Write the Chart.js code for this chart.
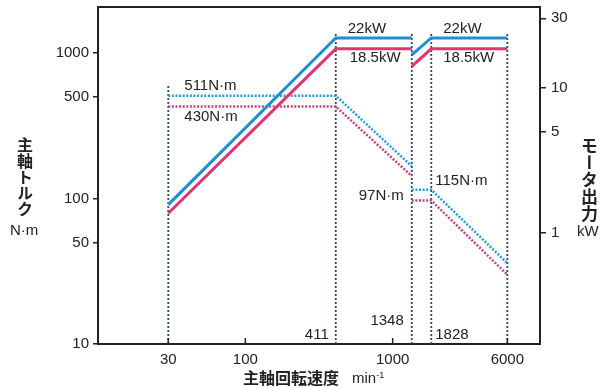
<!DOCTYPE html>
<html lang="ja">
<head>
<meta charset="utf-8">
<title>主軸出力線図</title>
<script src="https://cdn.jsdelivr.net/npm/chart.js@4.4.1/dist/chart.umd.min.js"></script>
<style>
  html, body { margin: 0; padding: 0; background: #fff; }
  #wrap { position: relative; width: 602px; height: 389px; overflow: hidden; }
  canvas { position: absolute; left: 0; top: 0; }
  .t { position: absolute; color: #222; white-space: nowrap; line-height: 1; }
  .cjk { font-family: "Noto Sans CJK JP", sans-serif; font-weight: 700; }
  .lat { font-family: "Liberation Sans", Arial, sans-serif; }
  .vert { writing-mode: vertical-rl; text-orientation: upright; }
</style>
</head>
<body>
<div id="wrap">
  <canvas id="c" width="602" height="389"></canvas>
  <div class="t cjk vert" style="left:17px; top:137px; font-size:16px;">主軸トルク</div>
  <div class="t lat" style="left:10px; top:222px; font-size:15px;">N·m</div>
  <div class="t cjk vert" style="left:581px; top:137px; font-size:17px;">モータ出力</div>
  <div class="t lat" style="left:577px; top:223px; font-size:15px;">kW</div>
  <div class="t cjk" style="left:243px; top:369px; font-size:16px;">主軸回転速度</div>
  <div class="t lat" style="left:352px; top:370px; font-size:15px;">min<sup style="font-size:9px; vertical-align:5px;">-1</sup></div>
</div>
<script>
// Spindle speed breakpoints (min^-1): low-speed winding and high-speed winding
const speedLow  = [30, 411, 1348];
const speedHigh = [1348, 1828, 6000];

// Spindle torque (N·m), dotted curves
const torqueBlueLow  = [511, 511, 167];
const torqueBlueHigh = [115, 115, 36];
const torqueRedLow   = [430, 430, 143];
const torqueRedHigh  = [97, 97, 30];

// Motor output (kW), solid curves
const powerBlueLow  = [1.57, 22, 22];
const powerBlueHigh = [16.8, 22, 22];
const powerRedLow   = [1.37, 18.5, 18.5];
const powerRedHigh  = [14, 18.5, 18.5];

// Vertical guide lines at the characteristic speeds (torque-axis top of each)
const guideSpeeds = [30, 411, 1348, 1828, 6000];
const guideTops   = [600, 1400, 1400, 1400, 1400];

// Axis tick labels
const speedTicks  = [30, 100, 1000, 6000];
const torqueTicks = [10, 50, 100, 500, 1000];
const powerTicks  = [1, 5, 10, 30];

const BLUE = '#1f8fd4';
const RED = '#e0356f';
const INK = '#222';
const LATIN = '"Liberation Sans", Arial, sans-serif';

function twoSegments(xa, ya, xb, yb) {
  const pts = xa.map((x, i) => ({ x, y: ya[i] }));
  pts.push({ x: xa[xa.length - 1], y: null });
  return pts.concat(xb.map((x, i) => ({ x, y: yb[i] })));
}

function guidePoints() {
  const pts = [];
  guideSpeeds.forEach((s, i) => {
    pts.push({ x: s, y: torqueTicks[0] }, { x: s, y: guideTops[i] }, { x: s, y: null });
  });
  return pts;
}

// Text notes placed relative to the marks they describe
const notes = [
  { text: powerBlueLow[1] + 'kW',  x: speedLow[1],  axis: 'yP', y: powerBlueLow[1], dx: 12, dy: -9, align: 'left' },
  { text: powerRedLow[1] + 'kW',   x: speedLow[1],  axis: 'yP', y: powerRedLow[1],  dx: 14, dy: 9,  align: 'left' },
  { text: powerBlueHigh[1] + 'kW', x: speedHigh[1], axis: 'yP', y: powerBlueHigh[1], dx: 12, dy: -9, align: 'left' },
  { text: powerRedHigh[1] + 'kW',  x: speedHigh[1], axis: 'yP', y: powerRedHigh[1],  dx: 12, dy: 9,  align: 'left' },
  { text: torqueBlueLow[0] + 'N·m', x: speedLow[0], axis: 'y', y: torqueBlueLow[0], dx: 16, dy: -10, align: 'left' },
  { text: torqueRedLow[0] + 'N·m',  x: speedLow[0], axis: 'y', y: torqueRedLow[0],  dx: 16, dy: 10,  align: 'left' },
  { text: torqueRedHigh[0] + 'N·m', x: speedHigh[0], axis: 'y', y: torqueRedHigh[0], dx: -8, dy: -5, align: 'right' },
  { text: torqueBlueHigh[0] + 'N·m', x: speedHigh[1], axis: 'y', y: torqueBlueHigh[0], dx: 4, dy: -8.5, align: 'left' },
  { text: String(guideSpeeds[1]), x: guideSpeeds[1], axis: null, dx: -7, dy: -9,  align: 'right' },
  { text: String(guideSpeeds[2]), x: guideSpeeds[2], axis: null, dx: -8, dy: -23, align: 'right' },
  { text: String(guideSpeeds[3]), x: guideSpeeds[3], axis: null, dx: 4,  dy: -9,  align: 'left' }
];

const decorations = {
  id: 'decorations',
  afterDatasetsDraw(chart) {
    const { ctx, chartArea: a, scales } = chart;
    ctx.save();
    // top frame line
    ctx.strokeStyle = INK;
    ctx.lineWidth = 2;
    ctx.beginPath();
    ctx.moveTo(a.left - 1, a.top);
    ctx.lineTo(a.right + 1, a.top);
    ctx.stroke();
    // inward tick marks on the speed axis
    ctx.lineWidth = 1.5;
    speedTicks.forEach(v => {
      const px = scales.x.getPixelForValue(v);
      ctx.beginPath();
      ctx.moveTo(px, a.bottom);
      ctx.lineTo(px, a.bottom - 6);
      ctx.stroke();
    });
    // notes
    ctx.fillStyle = INK;
    ctx.font = '15px ' + LATIN;
    ctx.textBaseline = 'middle';
    notes.forEach(n => {
      const px = scales.x.getPixelForValue(n.x) + n.dx;
      const py = (n.axis ? scales[n.axis].getPixelForValue(n.y) : a.bottom) + n.dy;
      ctx.textAlign = n.align;
      ctx.fillText(n.text, px, py);
    });
    ctx.restore();
  }
};

const tickFont = { family: LATIN, size: 15 };
const noEndPadding = s => { s.paddingTop = 0; s.paddingBottom = 0; s.paddingLeft = 0; s.paddingRight = 0; };

new Chart(document.getElementById('c'), {
  type: 'line',
  data: {
    datasets: [
      { data: twoSegments(speedLow, powerBlueLow, speedHigh, powerBlueHigh), yAxisID: 'yP',
        borderColor: BLUE, borderWidth: 3 },
      { data: twoSegments(speedLow, powerRedLow, speedHigh, powerRedHigh), yAxisID: 'yP',
        borderColor: RED, borderWidth: 3 },
      { data: twoSegments(speedLow, torqueBlueLow, speedHigh, torqueBlueHigh), yAxisID: 'y',
        borderColor: '#2a9bd6', borderWidth: 2.5, borderDash: [2, 1.6] },
      { data: twoSegments(speedLow, torqueRedLow, speedHigh, torqueRedHigh), yAxisID: 'y',
        borderColor: '#c8407c', borderWidth: 2.5, borderDash: [2, 1.6] },
      { data: guidePoints(), yAxisID: 'y',
        borderColor: '#2b4a6e', borderWidth: 1.8, borderDash: [2, 2] }
    ]
  },
  options: {
    responsive: false,
    animation: false,
    devicePixelRatio: 1,
    spanGaps: false,
    layout: { padding: { top: 7, left: 0, right: 0, bottom: 0 } },
    elements: { point: { radius: 0 }, line: { tension: 0, borderCapStyle: 'butt' } },
    plugins: { legend: { display: false }, tooltip: { enabled: false } },
    scales: {
      x: {
        type: 'logarithmic', position: 'bottom', min: 10, max: 10000,
        afterFit: s => { s.height = 45; noEndPadding(s); },
        afterBuildTicks: s => { s.ticks = speedTicks.map(v => ({ value: v })); },
        grid: { display: false, drawTicks: false },
        border: { color: INK, width: 2 },
        ticks: { font: tickFont, color: INK, padding: 7, maxRotation: 0, autoSkip: false, callback: v => String(v) }
      },
      y: {
        type: 'logarithmic', position: 'left', min: 10, max: 2080,
        afterFit: s => { s.width = 98; noEndPadding(s); },
        afterBuildTicks: s => { s.ticks = torqueTicks.map(v => ({ value: v })); },
        grid: { drawOnChartArea: false, drawTicks: true, tickLength: 5, color: INK, lineWidth: 1.5 },
        border: { color: INK, width: 2 },
        ticks: { font: tickFont, color: INK, padding: 4, autoSkip: false, callback: v => String(v) }
      },
      yP: {
        type: 'logarithmic', position: 'right', min: 0.1727, max: 35.9,
        afterFit: s => { s.width = 62; noEndPadding(s); },
        afterBuildTicks: s => { s.ticks = powerTicks.map(v => ({ value: v })); },
        grid: { drawOnChartArea: false, drawTicks: true, tickLength: 6, color: INK, lineWidth: 1.5 },
        border: { color: INK, width: 2 },
        ticks: { font: tickFont, color: INK, padding: 5, autoSkip: false, callback: v => String(v) }
      }
    }
  },
  plugins: [decorations]
});
</script>
</body>
</html>
